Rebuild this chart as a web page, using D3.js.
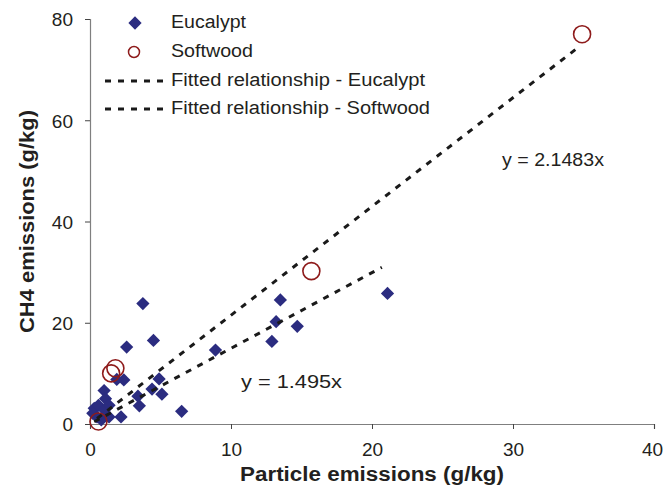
<!DOCTYPE html>
<html>
<head>
<meta charset="utf-8">
<script src="https://cdn.jsdelivr.net/npm/d3@7"></script>
<style>
  body { margin: 0; background: #fff; }
  svg { display: block; font-family: "Liberation Sans", Arial, sans-serif; }
</style>
</head>
<body>
<div class="container"></div>
<script>
// data (g/kg)
const eucalyptX = [3.75, 4.5, 2.6, 8.9, 13.5, 13.2, 14.7, 12.9, 21.1, 6.5, 2.4, 1.9, 4.9, 4.4, 5.1, 3.4, 3.5, 2.2, 1.0, 1.1, 0.3, 0.2, 0.6, 1.0, 0.5, 1.35, 1.35, 0.8];
const eucalyptY = [23.8, 16.5, 15.2, 14.6, 24.5, 20.2, 19.3, 16.3, 25.8, 2.5, 8.7, 8.8, 8.9, 6.9, 5.9, 5.5, 3.6, 1.4, 6.6, 5.0, 3.1, 2.1, 3.7, 2.8, 1.4, 3.7, 1.4, 0.8];
const softwoodX = [34.9, 15.7, 1.8, 1.5, 0.6];
const softwoodY = [77.0, 30.2, 11.0, 10.0, 0.5];

const fitSlopes = [1.495, 2.1483];
const fitRanges = [[0.3, 20.7], [0.5, 34.8]];
const fitLabels = ["y = 1.495x", "y = 2.1483x"];

const xTicks = [0, 10, 20, 30, 40];
const yTicks = [0, 20, 40, 60, 80];
const legendLabels = ["Eucalypt", "Softwood", "Fitted relationship - Eucalypt", "Fitted relationship - Softwood"];

const W = 663, H = 494;
const plotLeft = 90, plotRight = 654, plotTop = 19, plotBottom = 424;
const navy = "#2b2c80", darkred = "#8e1b1b", ink = "#231f20", axisGrey = "#7f7f7f";

const svg = d3.select(".container").append("svg")
  .attr("width", W)
  .attr("height", H);

const x = d3.scaleLinear().domain([0, 40]).range([plotLeft, plotRight]);
const y = d3.scaleLinear().domain([0, 80]).range([plotBottom, plotTop]);

// axes
const xAxis = svg.append("g")
  .attr("transform", "translate(0," + plotBottom + ")")
  .call(d3.axisBottom(x).tickValues(xTicks).tickSize(5).tickPadding(14).tickFormat(d3.format("d")));
const yAxis = svg.append("g")
  .attr("transform", "translate(" + plotLeft + ",0)")
  .call(d3.axisLeft(y).tickValues(yTicks).tickSize(5).tickPadding(12).tickFormat(d3.format("d")));

[xAxis, yAxis].forEach(function(a) {
  a.select(".domain").attr("stroke", axisGrey).attr("stroke-width", 1.2);
  a.selectAll(".tick line").attr("stroke", "#444");
  a.selectAll(".tick text")
    .attr("fill", ink)
    .style("font-size", "19px")
    .style("font-family", "Liberation Sans, Arial, sans-serif");
});
yAxis.selectAll(".tick text").attr("dy", "0.36em");
// last x label sits against the right edge, as in the source
xAxis.selectAll(".tick text").filter(function(d) { return d === 40; }).attr("dx", "-2");

// axis titles
svg.append("text")
  .attr("x", (plotLeft + plotRight) / 2)
  .attr("y", 481)
  .attr("text-anchor", "middle")
  .attr("font-weight", "bold")
  .attr("font-size", "20px")
  .attr("fill", ink)
  .attr("textLength", 264)
  .attr("lengthAdjust", "spacingAndGlyphs")
  .text("Particle emissions (g/kg)");

svg.append("text")
  .attr("transform", "translate(34," + ((plotTop + plotBottom) / 2) + ") rotate(-90)")
  .attr("text-anchor", "middle")
  .attr("font-weight", "bold")
  .attr("font-size", "20px")
  .attr("fill", ink)
  .attr("textLength", 223)
  .attr("lengthAdjust", "spacingAndGlyphs")
  .text("CH4 emissions (g/kg)");

// eucalypt diamonds (square turned 45 degrees)
const diamond = d3.symbol().type(d3.symbolSquare).size(88);
const eucData = eucalyptX.map(function(d, i) { return {x: d, y: eucalyptY[i]}; });
svg.append("g").selectAll("path")
  .data(eucData)
  .enter()
  .append("path")
  .attr("d", diamond)
  .attr("transform", function(d) { return "translate(" + x(d.x) + "," + y(d.y) + ") rotate(45)"; })
  .attr("fill", navy);

// softwood circles
const softData = softwoodX.map(function(d, i) { return {x: d, y: softwoodY[i]}; });
svg.append("g").selectAll("circle")
  .data(softData)
  .enter()
  .append("circle")
  .attr("cx", function(d) { return x(d.x); })
  .attr("cy", function(d) { return y(d.y); })
  .attr("r", 8.5)
  .attr("fill", "none")
  .attr("stroke", darkred)
  .attr("stroke-width", 1.6);

// fitted lines
const line = d3.line().x(function(d) { return x(d[0]); }).y(function(d) { return y(d[1]); });
fitSlopes.forEach(function(k, i) {
  const pts = fitRanges[i].map(function(v) { return [v, k * v]; });
  svg.append("path")
    .datum(pts)
    .attr("d", line)
    .attr("fill", "none")
    .attr("stroke", "#1a1a1a")
    .attr("stroke-width", 3)
    .attr("stroke-dasharray", "6,7");
});

// equation labels
svg.append("text")
  .attr("x", 241).attr("y", 388)
  .attr("font-size", "18px").attr("fill", ink)
  .attr("textLength", 101).attr("lengthAdjust", "spacingAndGlyphs")
  .text(fitLabels[0]);
svg.append("text")
  .attr("x", 502).attr("y", 166)
  .attr("font-size", "18px").attr("fill", ink)
  .attr("textLength", 102).attr("lengthAdjust", "spacingAndGlyphs")
  .text(fitLabels[1]);

// legend
const legend = svg.append("g");
const legendY = [28, 57, 86, 114];
const legendLen = [75, 82, 254, 259];
legend.append("path")
  .attr("d", diamond)
  .attr("transform", "translate(135,23) rotate(45)")
  .attr("fill", navy);
legend.append("circle")
  .attr("cx", 134).attr("cy", 52).attr("r", 5.5)
  .attr("fill", "none").attr("stroke", darkred).attr("stroke-width", 1.5);
[81, 109].forEach(function(ly) {
  legend.append("line")
    .attr("x1", 105).attr("x2", 168).attr("y1", ly).attr("y2", ly)
    .attr("stroke", "#1a1a1a").attr("stroke-width", 3)
    .attr("stroke-dasharray", "6,7");
});
legend.selectAll("text")
  .data(legendLabels)
  .enter()
  .append("text")
  .attr("x", 171)
  .attr("y", function(d, i) { return legendY[i]; })
  .attr("font-size", "18px")
  .attr("fill", ink)
  .attr("textLength", function(d, i) { return legendLen[i]; })
  .attr("lengthAdjust", "spacingAndGlyphs")
  .text(function(d) { return d; });
</script>
</body>
</html>
